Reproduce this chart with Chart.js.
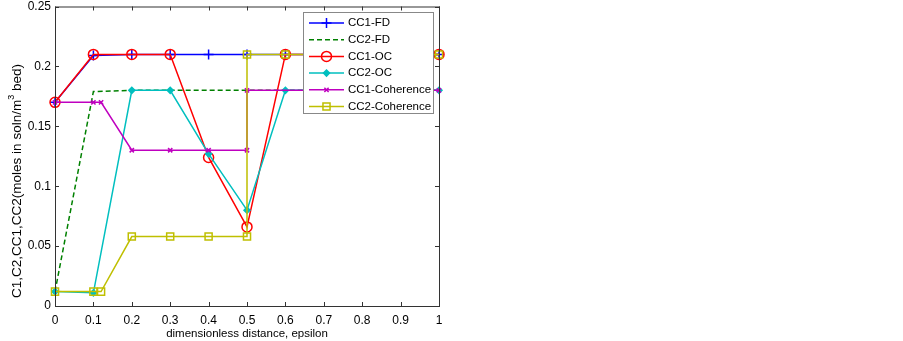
<!DOCTYPE html>
<html>
<head>
<meta charset="utf-8">
<script src="https://cdn.jsdelivr.net/npm/chart.js@4/dist/chart.umd.min.js"></script>
<style>
  html, body { margin: 0; padding: 0; background: #fff; }
  #wrap { width: 903px; height: 341px; }
</style>
</head>
<body>
<div id="wrap"><canvas id="concChart"></canvas></div>
<script>
const seriesNames = ['CC1-FD', 'CC2-FD', 'CC1-OC', 'CC2-OC', 'CC1-Coherence', 'CC2-Coherence'];

const xFD = [0, 0.1, 0.2, 0.3, 0.4, 0.5, 0.6, 1];
const cc1FD = [0.17, 0.209, 0.21, 0.21, 0.21, 0.21, 0.21, 0.21];
const cc2FD = [0.012, 0.179, 0.18, 0.18, 0.18, 0.18, 0.18, 0.18];

const xOC = [0, 0.1, 0.2, 0.3, 0.4, 0.5, 0.6, 1];
const cc1OC = [0.17, 0.21, 0.21, 0.21, 0.124, 0.066, 0.21, 0.21];
const cc2OC = [0.012, 0.011, 0.18, 0.18, 0.127, 0.08, 0.18, 0.18];

const xCC1Coh = [0, 0.1, 0.12, 0.2, 0.3, 0.4, 0.5, 0.5, 1];
const cc1Coh = [0.17, 0.17, 0.17, 0.13, 0.13, 0.13, 0.13, 0.18, 0.18];
const xCC2Coh = [0, 0.1, 0.12, 0.2, 0.3, 0.4, 0.5, 0.5, 0.6, 1];
const cc2Coh = [0.012, 0.012, 0.012, 0.058, 0.058, 0.058, 0.058, 0.21, 0.21, 0.21];

const xTicks = [0, 0.1, 0.2, 0.3, 0.4, 0.5, 0.6, 0.7, 0.8, 0.9, 1];
const yTicks = [0, 0.05, 0.1, 0.15, 0.2, 0.25];

const yTitle = 'C1,C2,CC1,CC2(moles in soln/m';
const yTitleSup = '3';
const yTitleEnd = ' bed)';

const pts = (xs, ys) => xs.map((x, i) => ({ x: x, y: ys[i] }));

const styles = [
  { color: '#0000ff', point: 'cross', radius: 5, dash: [] },
  { color: '#008000', point: false, radius: 0, dash: [5, 3] },
  { color: '#ff0000', point: 'circle', radius: 5, dash: [] },
  { color: '#00bfbf', point: 'rectRot', radius: 3, dash: [], fill: true },
  { color: '#bf00bf', point: 'crossRot', radius: 3, dash: [] },
  { color: '#bfbf00', point: 'rect', radius: 5, dash: [] }
];

const seriesData = [
  pts(xFD, cc1FD), pts(xFD, cc2FD), pts(xOC, cc1OC),
  pts(xOC, cc2OC), pts(xCC1Coh, cc1Coh), pts(xCC2Coh, cc2Coh)
];

const datasets = seriesNames.map((name, i) => ({
  label: name,
  data: seriesData[i],
  borderColor: styles[i].color,
  backgroundColor: styles[i].fill ? styles[i].color : 'rgba(0,0,0,0)',
  borderWidth: 1.5,
  borderDash: styles[i].dash,
  pointStyle: styles[i].point,
  pointRadius: styles[i].radius,
  pointBorderWidth: 1.5,
  pointBorderColor: styles[i].color,
  pointBackgroundColor: styles[i].fill ? styles[i].color : 'rgba(0,0,0,0)',
  tension: 0,
  clip: false,
  order: seriesNames.length - i
}));

const fontFam = '"Liberation Sans", Arial, sans-serif';

// box, inward ticks, y title and legend drawn like the MATLAB figure
const boxPlugin = {
  id: 'boxPlugin',
  afterDraw(chart) {
    const { ctx, chartArea: a, scales } = chart;
    ctx.save();
    ctx.strokeStyle = '#333';
    ctx.lineWidth = 1;
    ctx.strokeRect(a.left + 0.5, a.top + 0.5, a.right - a.left, a.bottom - a.top);
    ctx.beginPath();
    xTicks.forEach(v => {
      const px = Math.round(scales.x.getPixelForValue(v)) + 0.5;
      ctx.moveTo(px, a.bottom); ctx.lineTo(px, a.bottom - 4);
      ctx.moveTo(px, a.top); ctx.lineTo(px, a.top + 4);
    });
    yTicks.forEach(v => {
      const py = Math.round(scales.y.getPixelForValue(v)) + 0.5;
      ctx.moveTo(a.left, py); ctx.lineTo(a.left + 4, py);
      ctx.moveTo(a.right, py); ctx.lineTo(a.right - 4, py);
    });
    ctx.stroke();

    // y axis title with superscript
    ctx.fillStyle = '#000';
    ctx.translate(17, 181);
    ctx.rotate(-Math.PI / 2);
    ctx.textBaseline = 'middle';
    ctx.font = '13.5px ' + fontFam;
    const w1 = ctx.measureText(yTitle).width;
    const w3 = ctx.measureText(yTitleEnd).width;
    ctx.font = '9px ' + fontFam;
    const w2 = ctx.measureText(yTitleSup).width;
    let tx = -(w1 + w2 + w3) / 2;
    ctx.font = '13.5px ' + fontFam;
    ctx.fillText(yTitle, tx, 0);
    ctx.font = '9px ' + fontFam;
    ctx.fillText(yTitleSup, tx + w1, -5);
    ctx.font = '13.5px ' + fontFam;
    ctx.fillText(yTitleEnd, tx + w1 + w2, 0);
    ctx.setTransform(1, 0, 0, 1, 0, 0);

    // legend
    const lx = 303, ly = 12, lw = 130, lh = 101, rowH = 16.7;
    ctx.fillStyle = '#fff';
    ctx.fillRect(lx, ly, lw, lh);
    ctx.strokeStyle = '#888';
    ctx.strokeRect(lx + 0.5, ly + 0.5, lw, lh);
    ctx.font = '11.5px ' + fontFam;
    ctx.textBaseline = 'middle';
    seriesNames.forEach((name, i) => {
      const y = ly + 11 + i * rowH;
      const s = styles[i];
      ctx.strokeStyle = s.color;
      ctx.lineWidth = 1.5;
      ctx.setLineDash(s.dash);
      ctx.beginPath();
      ctx.moveTo(lx + 6, y); ctx.lineTo(lx + 41, y);
      ctx.stroke();
      ctx.setLineDash([]);
      if (s.point) {
        ctx.fillStyle = s.fill ? s.color : 'rgba(0,0,0,0)';
        Chart.helpers.drawPoint(ctx, {
          pointStyle: s.point, radius: s.radius, borderWidth: 1.5, rotation: 0
        }, lx + 23.5, y);
      }
      ctx.fillStyle = '#000';
      ctx.fillText(name, lx + 45, y);
    });
    ctx.restore();
  }
};

const tickFont = { family: fontFam, size: 12 };

new Chart(document.getElementById('concChart'), {
  type: 'line',
  data: { datasets: datasets },
  options: {
    responsive: true,
    maintainAspectRatio: false,
    animation: false,
    events: [],
    layout: { padding: { left: 0, right: 464, top: 6, bottom: 0 } },
    plugins: { legend: { display: false }, tooltip: { enabled: false } },
    scales: {
      x: {
        type: 'linear',
        min: 0, max: 1,
        afterBuildTicks: s => { s.ticks = xTicks.map(v => ({ value: v })); },
        afterFit: s => { s.height = 35; s.paddingLeft = 0; s.paddingRight = 0; },
        grid: { display: false, drawTicks: false },
        border: { display: false },
        ticks: { color: '#000', font: tickFont, padding: 7, maxRotation: 0,
                 callback: v => String(+v.toFixed(2)) },
        title: { display: true, text: 'dimensionless distance, epsilon', color: '#000',
                 font: { family: fontFam, size: 11.5 }, padding: { top: 1, bottom: 0 } }
      },
      y: {
        min: 0, max: 0.25,
        afterBuildTicks: s => { s.ticks = yTicks.map(v => ({ value: v })); },
        afterFit: s => { s.width = 55; s.paddingTop = 0; s.paddingBottom = 0; },
        grid: { display: false, drawTicks: false },
        border: { display: false },
        ticks: { color: '#000', font: tickFont, padding: 4,
                 callback: v => String(+v.toFixed(2)) }
      }
    }
  },
  plugins: [boxPlugin]
});
</script>
</body>
</html>
